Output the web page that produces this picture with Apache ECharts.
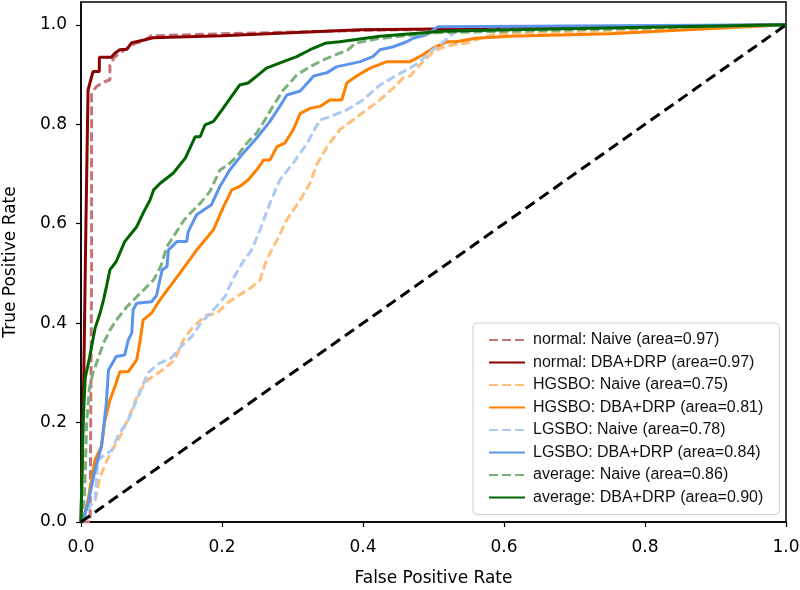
<!DOCTYPE html>
<html>
<head>
<meta charset="utf-8">
<script src="https://cdn.jsdelivr.net/npm/echarts@6/dist/echarts.min.js"></script>
<style>html,body{margin:0;padding:0;background:#fff}#c{width:800px;height:590px}</style>
</head>
<body>
<div id="c"></div>
<script>
const seriesNames = [
  'normal: Naive (area=0.97)',
  'normal: DBA+DRP (area=0.97)',
  'HGSBO: Naive (area=0.75)',
  'HGSBO: DBA+DRP (area=0.81)',
  'LGSBO: Naive (area=0.78)',
  'LGSBO: DBA+DRP (area=0.84)',
  'average: Naive (area=0.86)',
  'average: DBA+DRP (area=0.90)'
];
const tickValues = [0, 0.2, 0.4, 0.6, 0.8, 1.0];

const normalNaive = [[0,0],[0.013,0],[0.015,0.5],[0.015,0.863],[0.022,0.876],[0.034,0.886],[0.041,0.889],[0.041,0.92],[0.048,0.936],[0.06,0.948],[0.077,0.963],[0.086,0.966],[0.1,0.978],[0.2,0.982],[0.4,0.989],[0.6,0.993],[1,1]];
const normalDBA = [[0,0],[0.004,0.3],[0.007,0.6],[0.01,0.869],[0.017,0.906],[0.026,0.906],[0.026,0.935],[0.043,0.935],[0.048,0.943],[0.055,0.95],[0.065,0.951],[0.072,0.964],[0.091,0.97],[0.102,0.974],[0.2,0.978],[0.396,0.99],[0.608,0.993],[1,1]];
const hgsboNaive = [[0,0],[0.005,0.01],[0.01,0.031],[0.02,0.044],[0.027,0.091],[0.039,0.131],[0.058,0.179],[0.072,0.225],[0.081,0.259],[0.095,0.286],[0.114,0.304],[0.133,0.326],[0.145,0.366],[0.159,0.393],[0.178,0.416],[0.193,0.42],[0.207,0.44],[0.225,0.457],[0.24,0.47],[0.254,0.487],[0.263,0.527],[0.278,0.567],[0.292,0.608],[0.311,0.648],[0.325,0.682],[0.334,0.718],[0.349,0.755],[0.367,0.789],[0.386,0.809],[0.405,0.829],[0.424,0.849],[0.443,0.873],[0.457,0.893],[0.467,0.897],[0.481,0.92],[0.495,0.94],[0.509,0.953],[0.528,0.96],[0.547,0.963],[0.566,0.973],[0.584,0.98],[0.608,0.983],[0.8,0.99],[1,1]];
const hgsboDBA = [[0,0],[0.004,0.01],[0.01,0.044],[0.02,0.125],[0.029,0.152],[0.034,0.205],[0.041,0.245],[0.05,0.28],[0.055,0.302],[0.067,0.302],[0.079,0.326],[0.084,0.366],[0.088,0.406],[0.1,0.42],[0.112,0.447],[0.14,0.5],[0.164,0.547],[0.188,0.588],[0.202,0.634],[0.214,0.668],[0.225,0.675],[0.237,0.688],[0.249,0.708],[0.259,0.728],[0.268,0.728],[0.278,0.755],[0.289,0.762],[0.301,0.789],[0.311,0.822],[0.325,0.832],[0.339,0.836],[0.353,0.849],[0.37,0.849],[0.377,0.883],[0.391,0.897],[0.41,0.913],[0.434,0.926],[0.467,0.926],[0.485,0.94],[0.499,0.953],[0.519,0.966],[0.532,0.966],[0.56,0.973],[0.608,0.977],[0.75,0.982],[1,1]];
const lgsboNaive = [[0,0],[0.005,0.01],[0.012,0.03],[0.02,0.044],[0.024,0.125],[0.044,0.145],[0.052,0.172],[0.067,0.205],[0.081,0.252],[0.095,0.3],[0.11,0.318],[0.128,0.33],[0.14,0.35],[0.157,0.373],[0.17,0.4],[0.19,0.43],[0.205,0.455],[0.216,0.49],[0.23,0.524],[0.242,0.547],[0.254,0.588],[0.268,0.641],[0.282,0.688],[0.301,0.722],[0.32,0.76],[0.339,0.809],[0.353,0.815],[0.377,0.829],[0.4,0.849],[0.424,0.879],[0.448,0.899],[0.467,0.913],[0.481,0.926],[0.495,0.946],[0.509,0.96],[0.523,0.977],[0.532,0.987],[0.6,0.99],[1,1]];
const lgsboDBA = [[0,0],[0.003,0.004],[0.01,0.038],[0.02,0.105],[0.029,0.152],[0.036,0.24],[0.039,0.306],[0.05,0.333],[0.062,0.336],[0.067,0.366],[0.072,0.38],[0.074,0.427],[0.079,0.44],[0.1,0.443],[0.107,0.455],[0.115,0.507],[0.122,0.514],[0.124,0.547],[0.136,0.564],[0.15,0.564],[0.152,0.584],[0.164,0.618],[0.185,0.638],[0.197,0.675],[0.211,0.708],[0.23,0.742],[0.249,0.772],[0.268,0.806],[0.282,0.836],[0.292,0.859],[0.311,0.867],[0.33,0.897],[0.349,0.904],[0.363,0.916],[0.377,0.92],[0.396,0.926],[0.414,0.936],[0.424,0.95],[0.443,0.956],[0.462,0.966],[0.471,0.973],[0.49,0.98],[0.506,0.996],[1,1]];
const averageNaive = [[0,0],[0.005,0.05],[0.008,0.2],[0.012,0.27],[0.017,0.3],[0.027,0.34],[0.032,0.36],[0.041,0.386],[0.05,0.406],[0.065,0.433],[0.084,0.46],[0.103,0.487],[0.113,0.514],[0.122,0.554],[0.146,0.607],[0.155,0.621],[0.169,0.641],[0.183,0.665],[0.197,0.708],[0.209,0.719],[0.221,0.735],[0.235,0.762],[0.249,0.782],[0.261,0.809],[0.273,0.838],[0.287,0.869],[0.306,0.899],[0.325,0.916],[0.343,0.929],[0.367,0.943],[0.379,0.95],[0.389,0.963],[0.42,0.972],[0.5,0.984],[0.7,0.99],[1,1]];
const averageDBA = [[0,0],[0.003,0.2],[0.006,0.29],[0.012,0.33],[0.02,0.39],[0.027,0.42],[0.032,0.447],[0.036,0.473],[0.041,0.507],[0.05,0.524],[0.055,0.541],[0.062,0.564],[0.079,0.594],[0.088,0.621],[0.098,0.648],[0.103,0.668],[0.112,0.681],[0.131,0.702],[0.148,0.732],[0.162,0.775],[0.169,0.775],[0.176,0.799],[0.188,0.806],[0.2,0.829],[0.211,0.851],[0.225,0.879],[0.237,0.883],[0.251,0.899],[0.263,0.913],[0.287,0.926],[0.306,0.936],[0.325,0.95],[0.346,0.963],[0.367,0.966],[0.424,0.977],[0.513,0.987],[0.608,0.99],[1,1]];
const chanceLine = [[0,0],[1,1]];

const curves = [normalNaive, normalDBA, hgsboNaive, hgsboDBA, lgsboNaive, lgsboDBA, averageNaive, averageDBA];
const colors = ['#c47676', '#8b0000', '#ffbf7a', '#ff8000', '#adc9f4', '#5c94ec', '#7cb07c', '#006400'];
const dashed = [true, false, true, false, true, false, true, false];

const chart = echarts.init(document.getElementById('c'), null, {renderer: 'canvas'});
const series = curves.map((d, i) => ({
  name: seriesNames[i],
  type: 'line',
  data: d,
  symbol: 'none',
  showSymbol: false,
  animation: false,
  lineStyle: {color: colors[i], width: 3, type: dashed[i] ? [9, 4] : 'solid'},
  itemStyle: {color: colors[i]},
  z: 2 + i
}));
series.push({
  name: 'chance',
  type: 'line',
  data: chanceLine,
  symbol: 'none',
  animation: false,
  lineStyle: {color: '#000', width: 3, type: [11, 6]},
  z: 20
});

const axisFont = {fontFamily: 'DejaVu Sans', fontSize: 17, color: '#000'};
chart.setOption({
  animation: false,
  backgroundColor: '#fff',
  grid: {left: 81, right: 14, top: 2, bottom: 68, show: true, borderColor: '#000', borderWidth: 1.5, containLabel: false, outerBoundsMode: 'none'},
  legend: {
    data: seriesNames,
    orient: 'vertical',
    left: 473, top: 323,
    itemWidth: 36, itemHeight: 14, itemGap: 6.5,
    padding: [9, 16, 9, 15],
    borderColor: '#d0d0d0', borderWidth: 1, borderRadius: 4,
    backgroundColor: 'rgba(255,255,255,0.85)',
    itemStyle: {opacity: 0, borderWidth: 0},
    textStyle: {fontFamily: 'Liberation Sans', fontSize: 16, color: '#111', lineHeight: 16, padding: [0, 0, 0, 3]}
  },
  xAxis: {
    type: 'value', min: 0, max: 1,
    name: 'False Positive Rate', nameLocation: 'middle', nameGap: 48,
    nameTextStyle: axisFont,
    splitLine: {show: false},
    axisLine: {show: true, lineStyle: {color: '#000', width: 1.5}},
    axisTick: {show: true, length: 5, lineStyle: {color: '#000', width: 1.2}, customValues: tickValues},
    axisLabel: {customValues: tickValues, formatter: v => v.toFixed(1), margin: 17, ...axisFont}
  },
  yAxis: {
    type: 'value', min: 0, max: 1.046,
    name: 'True Positive Rate', nameLocation: 'middle', nameGap: 62,
    nameTextStyle: axisFont,
    splitLine: {show: false},
    axisLine: {show: true, lineStyle: {color: '#000', width: 1.5}},
    axisTick: {show: true, length: 5, lineStyle: {color: '#000', width: 1.2}, customValues: tickValues},
    axisLabel: {customValues: tickValues, formatter: v => v.toFixed(1), margin: 14, ...axisFont}
  },
  series: series
});
</script>
</body>
</html>
